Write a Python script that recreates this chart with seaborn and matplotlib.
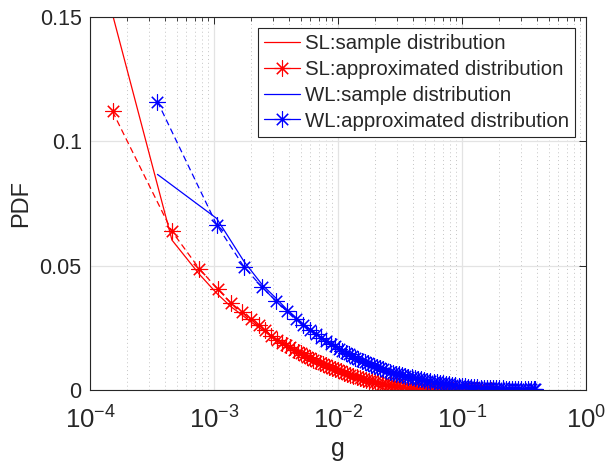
import numpy as np
import pandas as pd
import matplotlib
matplotlib.use("Agg")
import matplotlib.pyplot as plt
import seaborn as sns
from matplotlib.lines import Line2D
from matplotlib.ticker import LogLocator

# ---------------- data ----------------
sl_g = [1.52e-4, 4.58e-4, 7.63e-4, 1.07e-3, 1.37e-3, 1.68e-3, 1.98e-3, 2.29e-3, 2.59e-3,
        2.90e-3, 3.20e-3, 3.51e-3, 3.81e-3, 4.12e-3, 4.42e-3, 4.73e-3, 5.03e-3, 5.34e-3,
        5.64e-3, 5.95e-3, 6.3e-3, 6.7e-3, 7.1e-3, 7.5e-3, 8.0e-3, 8.5e-3, 9.0e-3, 9.5e-3,
        1.0e-2, 1.06e-2, 1.12e-2, 1.19e-2, 1.26e-2, 1.33e-2, 1.41e-2, 1.50e-2, 1.59e-2,
        1.68e-2, 1.78e-2, 1.89e-2, 2.0e-2, 2.12e-2, 2.25e-2, 2.38e-2, 2.52e-2, 2.67e-2,
        2.83e-2, 3.0e-2, 3.18e-2, 3.37e-2, 3.57e-2, 3.78e-2, 4.0e-2, 4.24e-2, 4.5e-2,
        4.77e-2, 5.05e-2, 5.35e-2, 5.67e-2, 6.0e-2, 6.36e-2, 6.74e-2, 7.14e-2, 7.57e-2,
        8.0e-2, 8.5e-2, 9.0e-2, 9.5e-2, 0.101, 0.107, 0.113, 0.12, 0.127, 0.135, 0.143,
        0.151, 0.16, 0.17]
sl_approx = [0.112, 0.0638, 0.0487, 0.0406, 0.0350, 0.0315, 0.0285, 0.0262, 0.0243,
             0.0217, 0.0203, 0.0191, 0.0181, 0.0171, 0.0162, 0.0154, 0.0147, 0.0140,
             0.0134, 0.0128, 0.0122, 0.0116, 0.0110, 0.0105, 0.0099, 0.0093, 0.0088, 0.0084,
             0.0079, 0.0075, 0.0070, 0.0066, 0.0061, 0.0057, 0.0053, 0.0049, 0.0045,
             0.0042, 0.0038, 0.0035, 0.0032, 0.0029, 0.0026, 0.0024, 0.0021, 0.0019,
             0.0017, 0.0015, 0.0013, 0.0012, 0.0010, 0.0009, 0.0008, 0.0007, 0.0006,
             0.0005, 0.0004, 0.0003, 0.00025, 0.0002, 0.00016, 0.00012, 0.0001, 0.00008,
             0.00006, 0.00004, 0.00003, 0.00002, 0.00001, 0.00001, 0.0, 0.0, 0.0, 0.0, 0.0,
             0.0, 0.0, 0.0]
sl_sample_g = [1.52e-4, 4.58e-4, 7.63e-4, 1.07e-3, 1.37e-3, 1.68e-3, 1.98e-3, 2.29e-3,
               2.59e-3, 3.20e-3, 4.12e-3, 5.03e-3, 6.3e-3, 8.0e-3, 1.0e-2, 1.26e-2,
               1.59e-2, 2.0e-2, 2.52e-2, 3.18e-2, 4.0e-2, 5.05e-2, 6.36e-2, 8.0e-2, 0.101,
               0.127, 0.17]
sl_sample = [0.151, 0.0603, 0.0465, 0.0385, 0.0335, 0.0302, 0.0274, 0.0252, 0.0233,
             0.0198, 0.0168, 0.0145, 0.0121, 0.0097, 0.0078, 0.0060, 0.0044, 0.0031,
             0.0020, 0.0013, 0.0008, 0.0004, 0.00015, 0.00005, 0.00001, 0.0, 0.0]

wl_g = [3.5e-4, 1.05e-3, 1.75e-3, 2.45e-3, 3.15e-3, 3.85e-3, 4.55e-3, 5.25e-3, 5.95e-3,
        6.65e-3, 7.35e-3, 8.05e-3, 8.75e-3, 9.45e-3, 1.015e-2, 1.085e-2, 1.155e-2, 1.225e-2,
        1.30e-2, 1.38e-2, 1.46e-2, 1.55e-2, 1.64e-2, 1.74e-2, 1.84e-2, 1.95e-2, 2.07e-2,
        2.19e-2, 2.32e-2, 2.46e-2, 2.61e-2, 2.77e-2, 2.93e-2, 3.11e-2, 3.29e-2, 3.49e-2,
        3.70e-2, 3.92e-2, 4.16e-2, 4.41e-2, 4.67e-2, 4.95e-2, 5.25e-2, 5.56e-2, 5.9e-2,
        6.25e-2, 6.62e-2, 7.02e-2, 7.44e-2, 7.89e-2, 8.36e-2, 8.86e-2, 9.4e-2, 9.96e-2,
        0.1056, 0.112, 0.1187, 0.1258, 0.1333, 0.1413, 0.1498, 0.1588, 0.1683, 0.1784,
        0.1891, 0.2005, 0.2125, 0.2253, 0.2388, 0.2531, 0.2683, 0.2844, 0.3015, 0.3196,
        0.3388, 0.3591, 0.3806, 0.39]
wl_approx = [0.116, 0.0665, 0.0494, 0.0413, 0.0358, 0.0318, 0.0287, 0.0262, 0.0241,
             0.0224, 0.0210, 0.0197, 0.0185, 0.0175, 0.0166, 0.0158, 0.0150, 0.0143,
             0.0137, 0.0130, 0.0124, 0.0118, 0.0112, 0.0107, 0.0102, 0.0097, 0.0092,
             0.0087, 0.0083, 0.0078, 0.0074, 0.0070, 0.0066, 0.0063, 0.0060, 0.0057,
             0.0054, 0.0052, 0.0049, 0.0046, 0.0043, 0.0040, 0.0038, 0.0035, 0.0033,
             0.0031, 0.0029, 0.0027, 0.0025, 0.0023, 0.0021, 0.0019, 0.0018, 0.0016,
             0.0015, 0.0014, 0.0013, 0.0012, 0.0011, 0.0010, 0.0010, 0.0009, 0.0009, 0.0008,
             0.0008, 0.0007, 0.0007, 0.0006, 0.0006, 0.0005, 0.0005, 0.0005, 0.0004, 0.0004,
             0.0004, 0.0003, 0.0003, 0.0003]
wl_sample_g = [3.5e-4, 1.05e-3, 1.75e-3, 2.45e-3, 3.15e-3, 3.85e-3, 4.55e-3, 5.25e-3,
               5.95e-3, 7.35e-3, 9.45e-3, 1.225e-2, 1.55e-2, 1.95e-2, 2.46e-2, 3.11e-2,
               3.92e-2, 4.95e-2, 6.25e-2, 7.89e-2, 9.96e-2, 0.1258, 0.1588, 0.2005, 0.2531,
               0.3196, 0.39]
wl_sample = [0.0867, 0.0690, 0.0516, 0.0423, 0.0370, 0.0325, 0.0293, 0.0266, 0.0244,
             0.0212, 0.0176, 0.0144, 0.0119, 0.0098, 0.0079, 0.0064, 0.0052, 0.0041,
             0.0031, 0.0023, 0.0016, 0.0012, 0.0009, 0.0007, 0.0005, 0.0004, 0.0003]

labels = ["SL:sample distribution", "SL:approximated distribution",
          "WL:sample distribution", "WL:approximated distribution"]
x_ticks = [1e-4, 1e-3, 1e-2, 1e-1, 1e0]
x_tick_labels = ["$10^{-4}$", "$10^{-3}$", "$10^{-2}$", "$10^{-1}$", "$10^{0}$"]
y_ticks = [0, 0.05, 0.1, 0.15]
y_tick_labels = ["0", "0.05", "0.1", "0.15"]

# ---------------- style ----------------
sns.set_theme(style="white")
plt.rcParams["font.family"] = ["Liberation Sans", "DejaVu Sans"]
plt.rcParams["mathtext.fontset"] = "custom"
plt.rcParams["mathtext.rm"] = "Liberation Sans"
plt.rcParams["mathtext.it"] = "Liberation Sans"
plt.rcParams["mathtext.default"] = "regular"

fig = plt.figure(figsize=(6.07, 4.62), dpi=100)
ax = fig.add_axes([90 / 607, 1 - 390 / 462, 496 / 607, 373 / 462])

RED = (1, 0, 0)
BLUE = (0, 0, 1)
STAR = (8, 2, 0)
ms = 11.5
mew = 0.8

def draw(gx, gy, color, ls, marker):
    df = pd.DataFrame({"g": gx, "pdf": gy})
    kw = dict(data=df, x="g", y="pdf", ax=ax, color=color, sort=False,
              estimator=None, linewidth=0.9, linestyle=ls, legend=False)
    if marker:
        kw.update(marker=STAR, markersize=ms, markeredgewidth=mew,
                  markeredgecolor=color)
    sns.lineplot(**kw)

draw(sl_sample_g, sl_sample, RED, "-", False)
draw(sl_g, sl_approx, RED, (0, (5, 3)), True)
draw(wl_sample_g, wl_sample, BLUE, "-", False)
draw(wl_g, wl_approx, BLUE, (0, (5, 3)), True)

ax.set_xscale("log")
ax.set_xlim(1e-4, 1e0)
ax.set_ylim(0, 0.15)
ax.set_xticks(x_ticks)
ax.set_xticklabels(x_tick_labels)
ax.xaxis.set_minor_locator(LogLocator(base=10, subs=np.arange(2, 10), numticks=20))
ax.xaxis.set_minor_formatter(plt.NullFormatter())
ax.set_yticks(y_ticks)
ax.set_yticklabels(y_tick_labels)

ax.grid(True, which="major", color="#e3e3e3", linestyle="-", linewidth=0.9)
ax.grid(True, which="minor", axis="x", color="#c4c4c4", linestyle=(0, (1, 3)),
        linewidth=0.7)
ax.set_axisbelow(True)

for s in ax.spines.values():
    s.set_visible(True)
    s.set_color("#262626")
    s.set_linewidth(0.8)

ax.tick_params(which="both", direction="in", top=True, right=True,
               colors="#262626", labelcolor="#262626")
ax.tick_params(which="major", length=5, width=0.7)
ax.tick_params(which="minor", length=3, width=0.6)
ax.tick_params(axis="y", which="major", labelsize=15.5, pad=6)
ax.tick_params(axis="x", which="major", labelsize=18.5, pad=12)

ax.set_xlabel("g", fontsize=18, color="#262626", labelpad=2)
ax.set_ylabel("PDF", fontsize=17, color="#262626", labelpad=5)

handles = [
    Line2D([], [], color=RED, lw=0.9),
    Line2D([], [], color=RED, lw=0.9, marker=STAR, markersize=ms, markeredgewidth=mew),
    Line2D([], [], color=BLUE, lw=0.9),
    Line2D([], [], color=BLUE, lw=0.9, marker=STAR, markersize=ms, markeredgewidth=mew),
]
leg = ax.legend(handles, labels, loc="upper right", fontsize=14.7, frameon=True,
                fancybox=False, framealpha=1, edgecolor="#262626",
                borderpad=0.3, labelspacing=0.33, handlelength=1.8,
                handletextpad=0.2, borderaxespad=0.55)
leg.get_frame().set_linewidth(0.8)

fig.savefig("out.png", dpi=100)
